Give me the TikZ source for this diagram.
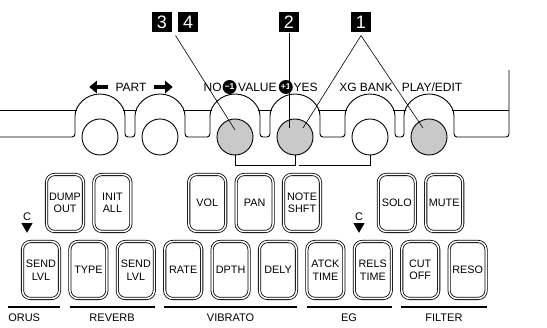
\documentclass[tikz,border=0pt]{standalone}
\usepackage{fontspec}
\setmainfont{Liberation Sans}
\usetikzlibrary{positioning,arrows.meta,shapes.geometric}

\begin{document}
\begin{tikzpicture}[x=1pt,y=-1pt,semithick,line join=round]
	\tikzstyle{panel}=[line width=0.9pt]
	\tikzstyle{lbl}=[inner sep=0pt,text height=8.6pt,text depth=0pt,font=\fontsize{12}{12}\selectfont]
	\tikzstyle{pm}=[circle,fill=black,text=white,inner sep=0pt,minimum size=14pt,font=\fontsize{8.5}{8.5}\selectfont\bfseries]
	\tikzstyle{tag}=[fill=black,text=white,minimum size=20.5pt,inner sep=0pt,font=\fontsize{18}{18}\selectfont]
	\tikzstyle{knob}=[circle,draw,line width=0.9pt,minimum size=36pt,inner sep=0pt]
	\tikzstyle{lit}=[fill=black!21]
	\tikzstyle{key}=[rectangle,rounded corners=8pt,draw,line width=0.8pt,double,double distance=1.5pt,minimum width=37pt,minimum height=57pt,align=center,inner sep=0pt,font=\fontsize{10.8}{12.5}\selectfont]
	\tikzstyle{group}=[line width=2.2pt]
	\tikzstyle{glbl}=[inner sep=0pt,text height=7.9pt,text depth=0pt,font=\fontsize{11}{11}\selectfont]
	\tikzstyle{tri}=[regular polygon,regular polygon sides=3,shape border rotate=180,fill=black,minimum size=13pt,inner sep=0pt]
	\tikzstyle{lead}=[line width=0.6pt]
	\tikzstyle{parr}=[line width=3.6pt,-{Triangle[length=7.5pt,width=12pt]}]

	\useasboundingbox (0,0) rectangle (547,328);

	% panel edge with the arches over the knobs
	\draw[panel,rounded corners=3pt] (0,137)
		\foreach \c in {100,160,235,295,370,429}{ -- (\c-25,137) -- (\c-25,119) arc[start angle=180,end angle=0,radius=25pt] -- (\c+25,137) }
		-- (509,137) -- (509,70);
	\draw[panel] (0,110) -- (76.7,110);
	\foreach \p/\q in {100/160,160/235,235/295,295/370,370/429}
		\draw[panel] (\p+23.3,110) -- (\q-23.3,110);
	\draw[panel] (452.3,110) -- (509,110);

	% knobs
	\node[knob] (partl) at (100,137) {};
	\node[knob] (partr) at (160,137) {};
	\node[knob,lit] (valno) at (235,137) {};
	\node[knob,lit] (valyes) at (295,137) {};
	\node[knob] (xgbank) at (370,137) {};
	\node[knob,lit] (playedit) at (429,137) {};

	% labels over the knobs
	\node[lbl] (part) at (131,87) {PART};
	\draw[parr] ([xshift=-7pt]part.west) -- ++(-19,0);
	\draw[parr] ([xshift=7pt]part.east) -- ++(19,0);
	\node[lbl,anchor=east] (no) at (222,87) {NO};
	\node[pm,right=0.3pt of no] (minus) {−1};
	\node[lbl,right=1pt of minus] (value) {VALUE};
	\node[pm,right=1.5pt of value] (plus) {+1};
	\node[lbl,right=0.3pt of plus] (yes) {YES};
	\node[lbl] (xg) at (366,87) {XG BANK};
	\node[lbl] (pe) at (432,87) {PLAY/EDIT};

	% brackets below
	\draw[panel] (valno.south) -- ++(0,10) -| (valyes.south);
	\draw[panel] ([xshift=4pt]valyes.south) ++(0,10) -| (xgbank.south);

	% step tags
	\node[tag] (t3) at (162,22) {3};
	\node[tag,right=5pt of t3] (t4) {4};
	\node[tag] (t2) at (289,22) {2};
	\node[tag] (t1) at (361,22) {1};
	\draw[lead] ([xshift=-2pt,yshift=-3pt]t4.south west) -- ([yshift=7pt]valno.center);
	\draw[lead] (t2.south) -- ([xshift=-6pt,yshift=9pt]valyes.center);
	\draw[lead] ([yshift=-3pt]t1.south) -- ([xshift=8pt,yshift=9pt]valyes.center);
	\draw[lead] ([yshift=-3pt]t1.south) -- ([xshift=-6pt,yshift=9pt]playedit.center);

	% keys
	\foreach \name/\txt/\j in {dump/{DUMP\\OUT}/0,init/{INIT\\ALL}/1,vol/VOL/3,pan/PAN/4,note/{NOTE\\SHFT}/5,solo/SOLO/7,mute/MUTE/8}
		\node[key] (\name) at (65+47.4*\j,203) {\txt};
	\foreach \name/\txt [count=\i from 0] in {chsend/{SEND\\LVL},rvtype/TYPE,rvsend/{SEND\\LVL},rate/RATE,dpth/DPTH,dely/DELY,atck/{ATCK\\TIME},rels/{RELS\\TIME},cutoff/{CUT\\OFF},reso/RESO}
		\node[key] (\name) at (41+47.4*\i,270) {\txt};

	\node[glbl] (cch) at (27,217) {C};
	\node[tri,below=1.5pt of cch] (tch) {};
	\node[glbl] (ceg) at (359,217) {C};
	\node[tri,below=1.5pt of ceg] (teg) {};

	% groups
	\coordinate (gy) at (0,307);
	\draw[group] (8,307) -- (chsend.east |- gy);
	\node[glbl,anchor=west] (orus) at (8,318) {ORUS};
	\draw[group] (rvtype.west |- gy) -- (rvsend.east |- gy) node[glbl,midway,yshift=-11pt] {REVERB};
	\draw[group] (rate.west |- gy) -- (dely.east |- gy) node[glbl,midway,yshift=-11pt] {VIBRATO};
	\draw[group] (atck.west |- gy) -- (rels.east |- gy) node[glbl,midway,yshift=-11pt] {EG};
	\draw[group] (cutoff.west |- gy) -- (reso.east |- gy) node[glbl,midway,yshift=-11pt] {FILTER};
\end{tikzpicture}
\end{document}
